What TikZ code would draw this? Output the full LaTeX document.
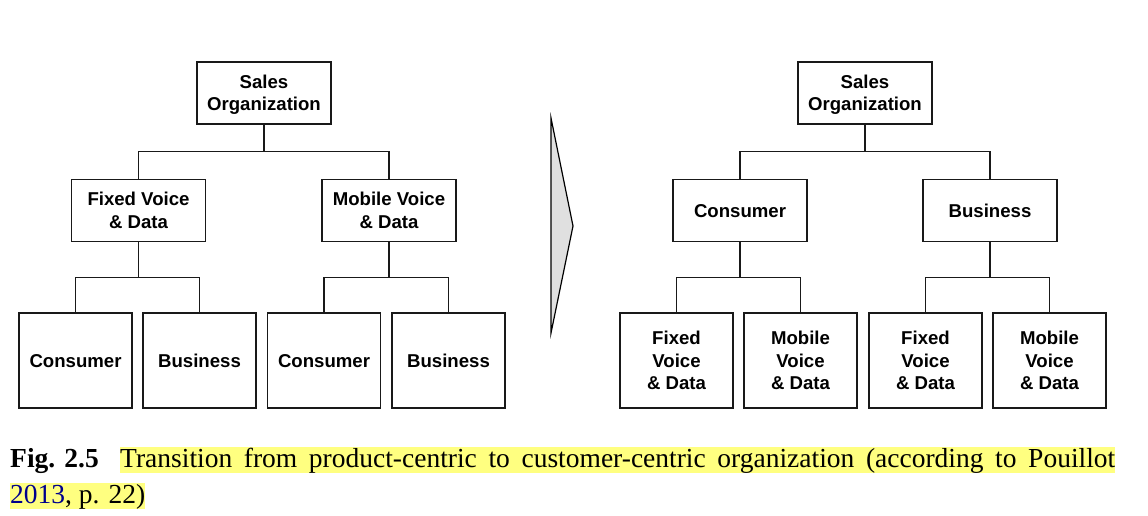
\documentclass[tikz,border=0pt]{standalone}
\usepackage{fontspec}
\setmainfont{Liberation Serif}
\newfontfamily\boxfont{Liberation Sans}
\usetikzlibrary{calc}
\definecolor{hilite}{RGB}{255,255,128}
\definecolor{citeblue}{RGB}{0,0,140}

\begin{document}
\begin{tikzpicture}[x=1pt,y=1pt,
	every node/.style={inner sep=0pt},
	unitbox/.style={draw=black!90,line width=1.3pt,align=center,text depth=0pt,
		font=\boxfont\bfseries\fontsize{18.6}{22.5}\selectfont},
	oneline/.style={text height=13.4pt},
	topbox/.style={unitbox,minimum width=134pt,minimum height=62pt},
	leafbox/.style={unitbox,minimum width=113pt,minimum height=95pt},
	link/.style={draw=black!90,line width=1.3pt},
	captext/.style={anchor=base west,font=\fontsize{27.5}{36}\selectfont,
		text height=20pt,text depth=6pt}]
	\useasboundingbox (0,0) rectangle (1148,515);
	
	% product-centric
	\node[topbox] (salesL) at (264,422) {Sales\\Organization};
	\node[topbox] (fixedL) at (138.5,304.5) {Fixed Voice\\\& Data};
	\node[topbox] (mobileL) at (389,304.5) {Mobile Voice\\\& Data};
	\node[leafbox,oneline] (consA) at (75.5,154.5) {Consumer};
	\node[leafbox,oneline] (busA) at (199.5,154.5) {Business};
	\node[leafbox,oneline] (consB) at (324,154.5) {Consumer};
	\node[leafbox,oneline] (busB) at (448.5,154.5) {Business};
	
	% customer-centric
	\node[topbox] (salesR) at (865,422) {Sales\\Organization};
	\node[topbox,oneline] (consR) at (740,304.5) {Consumer};
	\node[topbox,oneline] (busR) at (990,304.5) {Business};
	\node[leafbox] (fixedA) at (676.5,154.5) {Fixed\\Voice\\\& Data};
	\node[leafbox] (mobileA) at (800.5,154.5) {Mobile\\Voice\\\& Data};
	\node[leafbox] (fixedB) at (925.5,154.5) {Fixed\\Voice\\\& Data};
	\node[leafbox] (mobileB) at (1049.5,154.5) {Mobile\\Voice\\\& Data};
	
	\foreach \p/\c in {salesL/fixedL,salesL/mobileL,fixedL/consA,fixedL/busA,
		mobileL/consB,mobileL/busB,salesR/consR,salesR/busR,consR/fixedA,
		consR/mobileA,busR/fixedB,busR/mobileB}
	\draw[link] (\p.south) |- ($(\p.south)!0.5!(\c.north)$) -| (\c.north);
	
	% transition arrow
	\draw[fill=black!12,line width=1.2pt] (551,397) -- (573,289) -- (551,182) -- cycle;
	
	% caption
	\node[captext] (figlbl) at (10,48) {\bfseries Fig. 2.5};
	\node[captext,fill=hilite] (capA) at (120,48)
		{\makebox[995pt][s]{Transition from product-centric to customer-centric organization (according to Pouillot}};
	\node[captext,fill=hilite] (capB) at (10,12) {\textcolor{citeblue}{2013}, p. 22)};
\end{tikzpicture}
\end{document}
